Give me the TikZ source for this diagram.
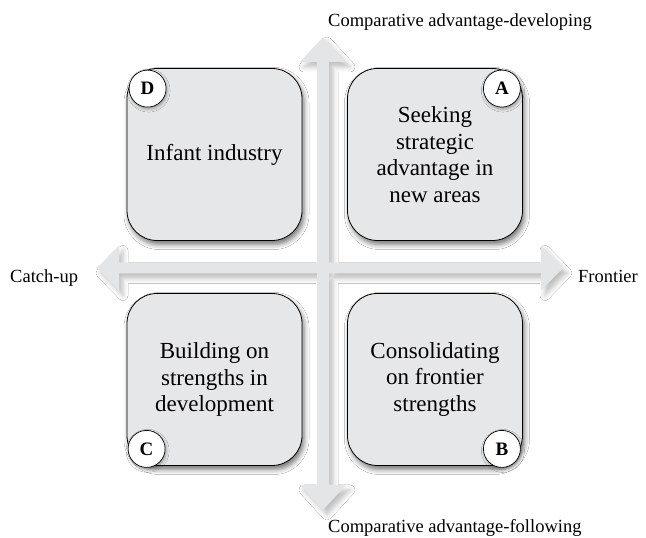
\documentclass[tikz,border=0pt]{standalone}
\usepackage{fontspec}
\setmainfont{Liberation Serif}
\usetikzlibrary{shadows.blur}
\definecolor{quadgray}{HTML}{E6E7E8}
\definecolor{axisgray}{HTML}{E4E5E6}
\begin{document}
\begin{tikzpicture}[x=1pt, y=1pt, every node/.style={font=\fontsize{18.5}{22}\selectfont}]
  \tikzstyle{quad}=[draw, line width=0.8pt, fill=quadgray, rounded corners=30pt, minimum width=175pt, minimum height=172pt, align=center, inner sep=0pt, font=\fontsize{23}{26.5}\selectfont, blur shadow={shadow xshift=2pt, shadow yshift=-4pt, shadow blur radius=5pt, shadow opacity=55}]
  \tikzstyle{tag}=[circle, draw, line width=0.7pt, fill=white, minimum size=37pt, inner sep=0pt, font=\bfseries\fontsize{19}{19}\selectfont, blur shadow={shadow xshift=1pt, shadow yshift=-2pt, shadow blur radius=3pt, shadow opacity=35}]
  \tikzstyle{axislabel}=[anchor=base west, inner sep=0pt]
  \useasboundingbox (0,0) rectangle (646,538);
  \fill[white] (0,0) rectangle (646,538);
  % the two double-headed axes, one path so they share one shadow
  \fill[axisgray, blur shadow={shadow xshift=4pt, shadow yshift=-5pt, shadow blur radius=5pt, shadow opacity=25}]
    (97,270) -- (119,247.5) -- (119,264.5) -- (541,264.5) -- (541,247.5) -- (563,270)
      -- (541,292.5) -- (541,275.5) -- (119,275.5) -- (119,292.5) -- cycle
    (323,28) -- (346,53) -- (329,53) -- (329,476) -- (346,476) -- (323,501)
      -- (300,476) -- (317,476) -- (317,53) -- (300,53) -- cycle;
  \node[axislabel] (dev) at (328,511) {Comparative advantage-developing};
  \node[axislabel] (fol) at (328,5) {Comparative advantage-following};
  \node[axislabel] (catch) at (10,255) {Catch-up};
  \node[axislabel] (front) at (578,255) {Frontier};
  \node[quad] (dbox) at (214.5,383.5) {Infant industry};
  \node[quad] (abox) at (435,383.5) {Seeking\\strategic\\advantage in\\new areas};
  \node[quad] (cbox) at (214.5,158.5) {Building on\\strengths in\\development};
  \node[quad] (bbox) at (435,158.5) {Consolidating\\on frontier\\strengths};
  \node[tag, xshift=21pt, yshift=-20.5pt] (d) at (dbox.north west) {D};
  \node[tag, xshift=-21pt, yshift=-20.5pt] (a) at (abox.north east) {A};
  \node[tag, xshift=20pt, yshift=17pt] (c) at (cbox.south west) {C};
  \node[tag, xshift=-21pt, yshift=17pt] (b) at (bbox.south east) {B};
\end{tikzpicture}
\end{document}
